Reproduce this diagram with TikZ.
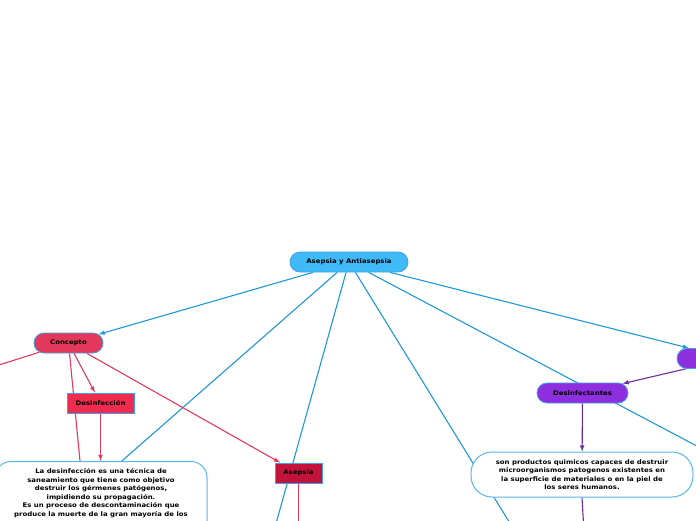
\documentclass[tikz,border=0pt]{standalone}
\usepackage{fontspec}
\setmainfont{DejaVu Sans}[FakeStretch=1.1]
\usepackage{xcolor}
\usetikzlibrary{arrows,shapes.misc,backgrounds}

\definecolor{LinkBlue}{HTML}{1F97DC}
\definecolor{LinkRed}{HTML}{E23A5E}
\definecolor{LinkPurple}{HTML}{6B2D9E}
\definecolor{NodeEdge}{HTML}{3FA2E6}
\definecolor{NoteEdge}{HTML}{5AB6EF}
\definecolor{RootFill}{HTML}{40B9F7}
\definecolor{ConceptFill}{HTML}{E2385C}
\definecolor{DesinfFill}{HTML}{EF2B4F}
\definecolor{AsepsiaFill}{HTML}{C4133B}
\definecolor{PurpleFill}{HTML}{8D2EDF}

\tikzset{
	pill/.style={rounded rectangle, draw=NodeEdge, line width=0.8pt, minimum height=20pt, inner xsep=0pt, inner ysep=0pt},
	tag/.style={rectangle, draw=NodeEdge, line width=0.8pt, minimum height=20pt, inner sep=0pt},
	note/.style={rectangle, draw=NoteEdge, fill=white, line width=1pt, align=center, inner xsep=0pt},
	bluelink/.style={LinkBlue, line width=1.1pt},
	redlink/.style={LinkRed, line width=1.1pt},
	purplelink/.style={LinkPurple, line width=1.1pt}
}

\begin{document}
\begin{tikzpicture}[x=1pt, y=-1pt, >=latex, font=\fontsize{6.3}{8.5}\selectfont\bfseries]

	\useasboundingbox (0,0) rectangle (696,520);
	\clip (0,0) rectangle (696,520);

	\node[pill, fill=RootFill, minimum width=118pt] (root) at (349,262) {Asepsia y Antiasepsia};
	\node[pill, fill=ConceptFill, minimum width=69pt] (concepto) at (68.5,343) {Concepto};
	\node[tag, fill=DesinfFill, minimum width=67pt] (desinfeccion) at (100.5,403) {Desinfección};
	\node[tag, fill=AsepsiaFill, minimum width=47pt] (asepsia) at (298.5,473) {Asepsia};
	\node[pill, fill=PurpleFill, minimum width=91pt] (desinfectantes) at (582.5,393) {Desinfectantes};
	\node[pill, fill=PurpleFill, minimum width=106pt] (tipos) at (730,358.5) {Desinfectantes};

	\node[note, rounded corners=16pt, minimum width=212pt, anchor=north, inner ysep=7pt, text depth=40pt] (defdesinf) at (101,461) {La desinfección es una técnica de\\saneamiento que tiene como objetivo\\destruir los gérmenes patógenos,\\impidiendo su propagación.\\Es un proceso de descontaminación que\\produce la muerte de la gran mayoría de los};
	\node[note, rounded corners=21pt, minimum width=222pt, minimum height=45pt] (defdesinfect) at (582,474.5) {son productos quimicos capaces de destruir\\microorganismos patogenos existentes en\\la superficie de materiales o en la piel de\\los seres humanos.};

	\coordinate (hiddenA) at (-14,580);
	\coordinate (hiddenB) at (241,649);
	\coordinate (hiddenC) at (587.5,649);
	\coordinate (hiddenD) at (761,480);
	\coordinate (hiddenE) at (-45.5,379);
	\coordinate (hiddenF) at (91.5,579);
	\coordinate (hiddenG) at (298.5,600);
	\coordinate (hiddenH) at (588,600);

	\begin{scope}[on background layer]
		\clip (0,0) rectangle (696,520);
		\draw[->, bluelink] (root) -- (concepto);
		\draw[bluelink] (root) -- (hiddenA);
		\draw[bluelink] (root) -- (hiddenB);
		\draw[bluelink] (root) -- (hiddenC);
		\draw[bluelink] (root) -- (hiddenD);
		\draw[->, bluelink] (root) -- (tipos);

		\draw[redlink] (concepto) -- (hiddenE);
		\draw[redlink] (concepto) -- (hiddenF);
		\draw[->, redlink] (concepto) -- (desinfeccion);
		\draw[->, redlink] (concepto) -- (asepsia);
		\draw[->, redlink] (desinfeccion) -- (desinfeccion |- defdesinf.north);
		\draw[redlink] (asepsia) -- (hiddenG);

		\draw[->, purplelink] (tipos) -- (desinfectantes);
		\draw[->, purplelink] (desinfectantes) -- (defdesinfect);
		\draw[purplelink] (defdesinfect.south) -- (hiddenH);
	\end{scope}

\end{tikzpicture}
\end{document}
